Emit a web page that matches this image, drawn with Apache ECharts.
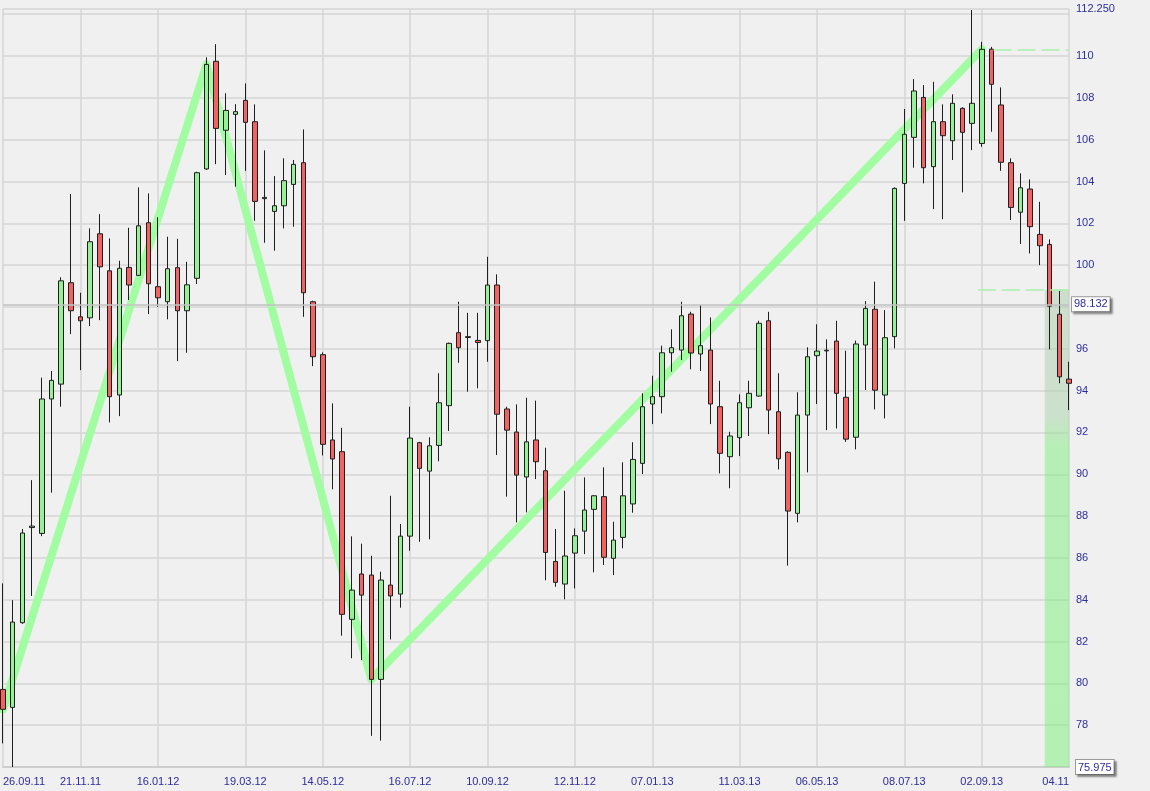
<!DOCTYPE html>
<html>
<head>
<meta charset="utf-8">
<script src="https://cdn.jsdelivr.net/npm/echarts@6/dist/echarts.min.js"></script>
<style>
  html, body { margin: 0; padding: 0; background: #f0f0f0; }
  #chart { width: 1150px; height: 791px; }
</style>
</head>
<body>
<div id="chart"></div>
<script>
// ---- weekly candles, first week 26.09.11 ----
const startWeek = '2011-09-26';
const openVals  = [79.71,78.85,82.90,87.45,87.17,93.60,94.31,99.16,97.53,97.48,101.50,99.73,93.79,99.89,99.51,102.03,98.97,98.25,99.88,97.82,99.37,104.60,109.75,106.45,107.21,107.88,106.86,103.18,102.57,102.84,103.86,104.90,98.25,95.72,91.64,91.08,83.06,85.23,85.18,80.19,84.70,84.27,87.04,91.51,90.15,91.38,93.28,96.77,96.54,96.40,96.39,99.05,93.12,92.02,89.87,91.64,90.17,85.83,84.75,86.23,87.28,88.32,88.93,85.98,86.98,88.58,90.52,93.36,93.71,95.81,95.94,97.66,95.75,95.94,93.23,90.84,91.75,93.18,93.74,97.34,92.99,91.05,88.13,92.83,95.67,95.90,96.37,93.68,91.77,96.18,97.89,93.79,96.58,103.91,106.11,108.02,104.71,106.86,105.95,107.50,106.78,105.82,110.33,107.66,104.90,102.53,103.64,101.47,100.99,97.65,94.55];
const closeVals = [78.76,82.93,87.19,87.52,93.60,94.49,99.25,97.82,97.34,101.12,99.92,93.71,99.85,99.05,101.88,99.11,98.44,99.83,97.82,99.06,104.42,109.60,106.54,107.40,107.34,106.83,103.05,103.24,102.84,104.04,104.82,98.68,95.62,91.43,90.73,83.30,84.46,84.22,80.19,84.94,84.18,87.04,91.73,90.28,91.36,93.42,96.26,96.05,96.58,96.30,99.05,92.87,92.11,89.96,91.55,90.60,86.26,84.83,86.09,87.06,88.29,88.97,86.03,86.85,88.97,90.71,93.23,93.71,95.81,96.05,97.58,95.80,96.15,93.36,91.00,91.83,93.42,93.87,97.22,93.07,90.74,88.24,92.83,95.62,95.89,95.93,93.87,91.68,96.23,97.93,94.02,96.53,103.67,106.26,108.33,104.66,106.86,106.19,107.74,106.35,107.74,110.32,108.65,104.92,102.76,103.70,101.84,100.93,98.04,94.66,94.35];
const lowVals   = [77.13,76.00,82.85,84.18,87.04,89.12,93.23,96.70,94.98,97.09,97.37,92.48,92.78,98.33,99.48,97.66,98.01,97.41,95.41,95.81,99.10,104.55,104.83,104.31,103.75,104.51,102.12,101.07,100.69,101.76,101.84,97.53,95.17,90.90,89.28,82.28,81.20,81.11,77.49,77.26,82.10,83.62,86.34,86.77,86.89,90.62,92.07,95.33,93.95,94.11,95.38,90.92,88.93,87.70,88.18,89.77,84.93,84.62,84.02,84.54,86.18,85.31,85.66,85.18,86.46,88.16,90.01,92.40,92.91,94.90,95.46,95.02,94.94,92.40,90.04,89.33,90.87,91.83,93.71,91.92,90.23,85.63,87.70,90.09,93.36,92.11,92.19,91.55,91.19,94.03,93.10,92.67,96.02,102.12,104.66,103.91,102.68,102.20,105.03,103.48,105.50,105.66,106.38,104.51,102.16,101.01,100.56,100.00,95.97,94.35,93.07];
const highVals  = [84.78,83.98,87.38,89.72,94.62,94.94,99.42,103.40,98.68,101.76,102.44,101.28,100.21,101.79,103.72,103.43,102.29,101.36,101.26,100.16,104.47,109.94,110.57,108.22,107.70,108.69,107.69,105.49,104.26,105.11,105.03,106.49,98.30,95.83,93.39,92.22,87.03,86.68,86.10,85.34,88.97,87.62,93.23,91.55,91.77,94.83,96.30,98.25,97.72,97.72,100.40,99.56,93.23,93.34,93.66,93.52,91.27,87.38,89.21,87.41,89.85,89.00,90.33,87.73,90.57,91.53,93.87,94.71,96.15,96.93,98.25,97.77,98.09,97.50,94.47,92.03,93.82,94.47,97.34,97.77,94.83,91.10,93.92,96.07,97.17,96.45,97.34,95.91,96.39,98.28,99.21,97.85,103.72,107.47,108.90,108.61,108.77,107.69,108.17,107.55,112.20,110.68,110.44,108.50,105.11,104.39,104.10,103.03,101.23,98.78,95.38];

// x-axis tick labels (week index -> text)
const tickIdx    = [0, 8, 16, 25, 33, 42, 50, 59, 67, 76, 84, 93, 101, 110];
const tickLabels = ['26.09.11','21.11.11','16.01.12','19.03.12','14.05.12','16.07.12','10.09.12','12.11.12','07.01.13','11.03.13','06.05.13','08.07.13','02.09.13','04.11'];

// zig-zag swing line (week index, close)
const zigIdx = [0, 21, 38, 101];
const zigVal = [78.76, 109.60, 80.19, 110.32];

// y axis
const yMin = 75.975, yMinLabel = '75.975';
const yMax = 112.25, yMaxLabel = '112.250';
const yAxisMin = 76, yInterval = 2;

// level lines
const refLevel = 98.132, refLabel = '98.132';
const lastPrice = 94.35, lastLabel = '94.350';
const dashLevels = [{from: 102.2, to: 110, value: 110.32}, {from: 100.6, to: 110, value: 98.81}];
const zoneFrom = 107.5, zoneTo = 110.5, zoneTop = 98.81;

// ---- build ----
function weekDates(start, n) {
  const out = [];
  const d = new Date(start + 'T12:00:00Z');
  for (let i = 0; i < n; i++) {
    const t = new Date(d.getTime() + i * 7 * 86400000);
    const dd = String(t.getUTCDate()).padStart(2, '0');
    const mm = String(t.getUTCMonth() + 1).padStart(2, '0');
    const yy = String(t.getUTCFullYear()).slice(2);
    out.push(dd + '.' + mm + '.' + yy);
  }
  return out;
}
const categories = weekDates(startWeek, openVals.length);
const candleData = openVals.map((o, i) => [o, closeVals[i], lowVals[i], highVals[i]]);
const zigData = zigIdx.map((x, i) => [x, zigVal[i]]);
const tickSet = new Set(tickIdx);

const navy = '#2d2d9c';
const font = 'Liberation Sans, Arial, sans-serif';
const boxShadow = { shadowColor: 'rgba(0,0,0,0.35)', shadowOffsetX: 2, shadowOffsetY: 2, shadowBlur: 2 };

const chart = echarts.init(document.getElementById('chart'), null, { renderer: 'canvas' });
chart.setOption({
  backgroundColor: '#f0f0f0',
  animation: false,
  grid: { left: 3, right: 81, top: 9, bottom: 24, outerBoundsMode: 'none', containLabel: false },
  xAxis: [{
    type: 'category',
    data: categories,
    boundaryGap: false,
    axisLine: { show: true, lineStyle: { color: '#cdcdcd', width: 2 } },
    axisTick: { show: false },
    axisLabel: {
      interval: (i) => tickSet.has(i),
      formatter: (v, i) => tickLabels[tickIdx.indexOf(i)] || '',
      color: navy, fontSize: 11, fontFamily: font, margin: 9,
      alignMinLabel: 'left', alignMaxLabel: 'right'
    },
    splitLine: { show: true, interval: (i) => tickSet.has(i), lineStyle: { color: '#d6d6d6', width: 1.5 } }
  }, {
    type: 'value', min: 0, max: openVals.length - 1, show: false
  }],
  yAxis: [{
    type: 'value', position: 'right', scale: true,
    min: yAxisMin, max: yMax, interval: yInterval,
    axisLine: { show: false }, axisTick: { show: false },
    axisLabel: {
      color: navy, fontSize: 11, fontFamily: font, margin: 7,
      showMinLabel: true, showMaxLabel: true,
      formatter: (v) => {
        if (Math.abs(v - yMax) < 1e-6) return yMaxLabel;
        if (Math.abs(v - yAxisMin) < 1e-6) return '{box|' + yMinLabel + '}';
        if (v > yMax - yInterval + 0.5) return '';
        return String(v);
      },
      rich: {
        box: Object.assign({ backgroundColor: '#ffffff', borderColor: '#9a9a9a', borderWidth: 1,
          padding: [2, 2, 1, 2], color: navy, fontSize: 11, fontFamily: font }, boxShadow)
      }
    },
    splitLine: { show: true, lineStyle: { color: '#d6d6d6', width: 1.5 } }
  }],
  series: [{
    name: 'ZigZag', type: 'line', xAxisIndex: 1, yAxisIndex: 0,
    data: zigData, showSymbol: false, symbol: 'none', z: 1, clip: false, silent: true,
    lineStyle: { color: '#a2fda2', width: 8, cap: 'round', join: 'round' },
    markArea: {
      silent: true,
      itemStyle: {
        color: { type: 'linear', x: 0, y: 0, x2: 0, y2: 1, colorStops: [
          { offset: 0, color: 'rgba(172,204,172,0.5)' },
          { offset: 0.26, color: 'rgba(168,210,168,0.5)' },
          { offset: 0.33, color: 'rgba(124,238,124,0.5)' },
          { offset: 1, color: 'rgba(120,240,120,0.5)' } ] }
      },
      data: [[{ xAxis: zoneFrom, yAxis: zoneTop }, { xAxis: zoneTo, yAxis: yAxisMin }]]
    },
    markLine: {
      silent: true, symbol: ['none', 'none'], animation: false,
      lineStyle: { color: '#a8f0a8', width: 1.5, type: [18, 6] },
      label: { show: false },
      data: dashLevels.map(d => [{ coord: [d.from, d.value] }, { coord: [d.to, d.value] }])
    }
  }, {
    name: 'Price', type: 'candlestick', xAxisIndex: 0, yAxisIndex: 0,
    data: candleData, barWidth: 5, z: 3, clip: false, silent: true,
    itemStyle: { color: '#96f096', color0: '#f26262', borderColor: '#1e1e1e', borderColor0: '#1e1e1e', borderWidth: 1 },
    markLine: {
      silent: true, symbol: ['none', 'none'], animation: false,
      data: [
        { yAxis: refLevel, lineStyle: { color: '#c2c2c2', width: 1.5, type: 'solid' },
          label: Object.assign({ show: true, position: 'end', distance: 3, formatter: refLabel,
            color: navy, fontSize: 11, fontFamily: font, backgroundColor: '#ffffff',
            borderColor: '#9a9a9a', borderWidth: 1, padding: [2, 2, 1, 2] }, boxShadow) },
        { yAxis: lastPrice, lineStyle: { opacity: 0 },
          label: Object.assign({ show: true, position: 'end', distance: 3, formatter: lastLabel,
            color: navy, fontSize: 11, fontFamily: font, backgroundColor: '#ffffd2',
            borderColor: '#9a9a9a', borderWidth: 1, padding: [2, 2, 1, 2] }, boxShadow) }
      ]
    }
  }]
});
</script>
</body>
</html>
